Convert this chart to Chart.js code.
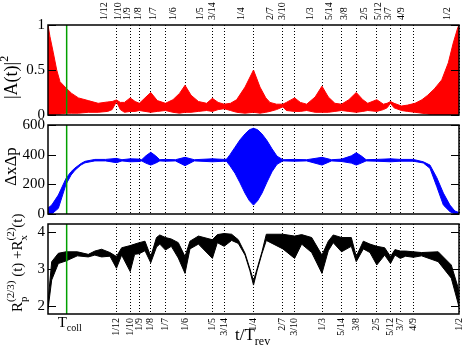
<!DOCTYPE html>
<html lang="en">
<head>
  <meta charset="UTF-8" />
  <title>Revival panels</title>
  <script src="https://cdn.jsdelivr.net/npm/chart.js@4.4.0/dist/chart.umd.min.js"></script>
  <style>
    body { margin: 0; background: #fff; }
    .wrap { position: relative; width: 463px; height: 361px; }
    .wrap canvas { position: absolute; left: 0; top: 0; }
  </style>
</head>
<body>
  <div class="wrap">
    <canvas id="amp-chart" width="463" height="361"></canvas>
    <canvas id="unc-chart" width="463" height="361"></canvas>
    <canvas id="ent-chart" width="463" height="361"></canvas>
  </div>
  <script>
    // fractional revival times (t/T_rev)
    var fracVals = [1/12, 1/10, 1/9, 1/8, 1/7, 1/6, 1/5, 3/14, 1/4, 2/7, 3/10, 1/3, 5/14, 3/8, 2/5, 5/12, 3/7, 4/9, 1/2];
    var fracLabels = ['1/12', '1/10', '1/9', '1/8', '1/7', '1/6', '1/5', '3/14', '1/4', '2/7', '3/10', '1/3', '5/14', '3/8', '2/5', '5/12', '3/7', '4/9', '1/2'];
    var tColl = 0.0227;

    // |A(t)|^2 : upper / lower edge of the oscillating band
    var tA = [0, 0.0024, 0.0065, 0.0106, 0.0146, 0.0219, 0.0288, 0.037, 0.049, 0.061, 0.0726, 0.078, 0.0833, 0.088, 0.093,
      0.1, 0.106, 0.1111, 0.118, 0.125, 0.133, 0.1429, 0.152, 0.16, 0.1667, 0.174, 0.183, 0.193, 0.2, 0.207, 0.2143,
      0.222, 0.2295, 0.2397, 0.25, 0.2579, 0.265, 0.27, 0.278, 0.2857, 0.29, 0.3, 0.307, 0.3147, 0.325, 0.3333, 0.341,
      0.349, 0.3571, 0.366, 0.375, 0.383, 0.389, 0.4, 0.408, 0.4125, 0.4167, 0.421, 0.43, 0.4375, 0.4465, 0.455, 0.462,
      0.47, 0.479, 0.487, 0.493, 0.4985, 0.5];
    var aHi = [1.0, 0.87, 0.69, 0.5, 0.37, 0.3, 0.24, 0.19, 0.16, 0.13, 0.145, 0.15, 0.167, 0.14, 0.14,
      0.19, 0.15, 0.13, 0.19, 0.25, 0.16, 0.13, 0.17, 0.24, 0.33, 0.22, 0.15, 0.13, 0.185, 0.14, 0.12,
      0.13, 0.17, 0.31, 0.5, 0.31, 0.19, 0.14, 0.12, 0.12, 0.14, 0.19, 0.14, 0.12, 0.2, 0.32, 0.2,
      0.13, 0.12, 0.17, 0.25, 0.17, 0.13, 0.17, 0.12, 0.13, 0.15, 0.13, 0.1, 0.11, 0.13, 0.17, 0.22,
      0.29, 0.39, 0.58, 0.8, 0.97, 1.0];
    var aLo = [0, 0, 0, 0.01, 0.01, 0.02, 0.02, 0.02, 0.03, 0.03, 0.04, 0.06, 0.15, 0.06, 0.03,
      0.04, 0.04, 0.05, 0.04, 0.03, 0.04, 0.05, 0.03, 0.02, 0.03, 0.03, 0.04, 0.05, 0.04, 0.06, 0.07,
      0.05, 0.03, 0.02, 0.03, 0.02, 0.03, 0.04, 0.06, 0.09, 0.05, 0.04, 0.04, 0.05, 0.03, 0.03, 0.03,
      0.04, 0.05, 0.04, 0.03, 0.04, 0.05, 0.04, 0.06, 0.08, 0.13, 0.08, 0.05, 0.04, 0.03, 0.02, 0.01,
      0, 0, 0, 0, 0, 0];

    // ΔxΔp band
    var tD = [0, 0.0045, 0.0126, 0.0219, 0.028, 0.0328, 0.04, 0.045, 0.057, 0.07, 0.0833, 0.09, 0.1, 0.1111, 0.114,
      0.119, 0.125, 0.131, 0.136, 0.1429, 0.155, 0.1667, 0.178, 0.2, 0.2143, 0.2174, 0.2214, 0.2275, 0.2336, 0.2397,
      0.245, 0.25, 0.255, 0.2603, 0.2664, 0.2725, 0.2786, 0.2857, 0.3, 0.3147, 0.3333, 0.345, 0.3571, 0.369, 0.375,
      0.381, 0.387, 0.4, 0.4167, 0.4286, 0.4444, 0.4566, 0.4647, 0.473, 0.481, 0.489, 0.495, 0.5];
    var dHi = [40, 60, 128, 240, 285, 310, 340, 355, 368, 368, 375, 366, 372, 370, 366,
      392, 416, 392, 366, 368, 366, 382, 366, 372, 368, 370, 400, 450, 500, 540,
      568, 578, 568, 540, 495, 440, 390, 366, 368, 366, 382, 366, 370, 392, 413,
      392, 366, 368, 372, 368, 368, 352, 330, 245, 141, 60, 20, 10];
    var dLo = [0, 0, 38, 200, 262, 295, 330, 345, 358, 358, 346, 358, 352, 354, 358,
      343, 330, 343, 358, 356, 358, 326, 358, 352, 356, 354, 325, 275, 210, 140,
      90, 60, 90, 140, 215, 285, 335, 358, 356, 358, 330, 358, 354, 343, 330,
      343, 358, 356, 352, 356, 356, 344, 308, 184, 60, 16, 0, 0];

    // R_p^(2/3)(t) + R_x^(2)(t) band
    var tR = [0, 0.0045, 0.0126, 0.0219, 0.0357, 0.049, 0.057, 0.0652, 0.0754, 0.0833, 0.0896, 0.1, 0.1054, 0.1111,
      0.118, 0.125, 0.132, 0.136, 0.1429, 0.15, 0.1585, 0.1667, 0.1727, 0.183, 0.2, 0.206, 0.2143, 0.2234, 0.2315,
      0.2397, 0.2457, 0.25, 0.2543, 0.2603, 0.2656, 0.2857, 0.3, 0.3086, 0.3208, 0.3333, 0.341, 0.347, 0.3571, 0.369,
      0.375, 0.3836, 0.3917, 0.4, 0.4096, 0.4167, 0.4221, 0.4286, 0.435, 0.4444, 0.4545, 0.4747, 0.4906, 0.4988, 0.5];
    var rHi = [2.1, 3.2, 3.43, 3.47, 3.47, 3.4, 3.49, 3.54, 3.45, 3.34, 3.58, 3.64, 3.68, 3.72,
      3.76, 3.34, 3.86, 3.93, 3.86, 3.82, 3.72, 3.34, 3.76, 3.9, 3.8, 3.94, 3.97, 3.95, 3.8,
      3.43, 3.0, 2.68, 3.0, 3.47, 3.95, 3.95, 3.9, 3.94, 3.86, 3.38, 3.76, 3.93, 3.86, 3.86,
      3.34, 3.76, 3.68, 3.62, 3.58, 3.34, 3.53, 3.49, 3.49, 3.47, 3.45, 3.47, 3.11, 2.5, 2.2];
    var rLo = [1.9, 2.7, 3.15, 3.22, 3.36, 3.33, 3.38, 3.33, 3.35, 3.02, 3.38, 2.93, 3.4, 3.42,
      3.5, 3.17, 3.6, 3.68, 3.52, 3.62, 3.3, 2.88, 3.55, 3.68, 3.29, 3.72, 3.62, 3.78, 3.7,
      3.38, 2.95, 2.56, 2.95, 3.42, 3.78, 3.55, 3.29, 3.68, 3.45, 2.88, 3.5, 3.72, 3.47, 3.62,
      3.2, 3.55, 3.45, 3.11, 3.38, 3.15, 3.38, 3.29, 3.35, 3.32, 3.36, 3.2, 2.75, 2.07, 1.95];

    var SERIF = '"Liberation Serif", "DejaVu Serif", serif';

    function pts(ts, vs) {
      return ts.map(function (t, i) { return { x: t, y: vs[i] }; });
    }

    function band(ts, hi, lo, color) {
      return [
        { data: pts(ts, hi), borderColor: color, backgroundColor: color, borderWidth: 1, pointRadius: 0, fill: '+1' },
        { data: pts(ts, lo), borderColor: color, backgroundColor: color, borderWidth: 1, pointRadius: 0, fill: false }
      ];
    }

    function xAxis(position, showLabels, height) {
      return {
        type: 'linear', position: position, min: 0, max: 0.5,
        afterBuildTicks: function (s) { s.ticks = fracVals.map(function (v) { return { value: v }; }); },
        afterFit: function (s) { s.height = height; s.paddingLeft = 0; s.paddingRight = 0; },
        ticks: {
          display: showLabels, autoSkip: false, minRotation: 90, maxRotation: 90,
          padding: position === 'top' ? 5 : 4, color: '#000',
          font: { family: SERIF, size: 10 },
          callback: function (v, i) { return fracLabels[i]; }
        },
        grid: { drawTicks: false, color: '#000', lineWidth: 1 },
        border: { display: false, dash: [1, 2] }
      };
    }

    function yAxis(min, max, tickVals) {
      return {
        type: 'linear', min: min, max: max,
        afterBuildTicks: function (s) { s.ticks = tickVals.map(function (v) { return { value: v }; }); },
        afterFit: function (s) { s.width = 48; s.paddingTop = 0; s.paddingBottom = 0; },
        ticks: {
          padding: 3, color: '#000', font: { family: SERIF, size: 15 },
          callback: function (v) { return String(v); }
        },
        grid: { display: false, drawTicks: false },
        border: { display: false }
      };
    }

    // text with sub/superscripts, optionally rotated to read upwards
    function richText(ctx, x, y, parts, rotate) {
      ctx.save();
      ctx.translate(x, y);
      if (rotate) ctx.rotate(-Math.PI / 2);
      ctx.fillStyle = '#000';
      ctx.textAlign = 'left';
      ctx.textBaseline = 'alphabetic';
      var pos = 0;
      parts.forEach(function (p) {
        ctx.font = p[1] + 'px ' + SERIF;
        ctx.fillText(p[0], pos, p[2] || 0);
        if (!p[3]) pos += ctx.measureText(p[0]).width;
      });
      ctx.restore();
    }

    // frame, inward ticks on both sides, T_coll marker
    var framePlugin = {
      id: 'frame',
      afterDatasetsDraw: function (chart) {
        var a = chart.chartArea, ctx = chart.ctx, x = chart.scales.x, y = chart.scales.y;
        ctx.save();
        var gx = x.getPixelForValue(tColl);
        ctx.strokeStyle = '#00a000';
        ctx.lineWidth = 1.5;
        ctx.beginPath(); ctx.moveTo(gx, a.top); ctx.lineTo(gx, a.bottom); ctx.stroke();
        ctx.strokeStyle = '#000';
        ctx.lineWidth = 1;
        y.ticks.forEach(function (t) {
          var py = Math.round(y.getPixelForValue(t.value)) + 0.5;
          ctx.beginPath();
          ctx.moveTo(a.left, py); ctx.lineTo(a.left + 8, py);
          ctx.moveTo(a.right, py); ctx.lineTo(a.right - 8, py);
          ctx.stroke();
        });
        ctx.lineWidth = 1.5;
        ctx.strokeRect(a.left, a.top, a.right - a.left, a.bottom - a.top);
        ctx.restore();
      }
    };

    function titlePlugin(draw) {
      return { id: 'titles', afterDraw: function (chart) { draw(chart.ctx, chart); } };
    }

    function makePanel(id, datasets, xPos, showX, xHeight, yMin, yMax, yTicks, pad, drawTitles) {
      return new Chart(document.getElementById(id), {
        type: 'line',
        data: { datasets: datasets },
        options: {
          responsive: false,
          animation: false,
          events: [],
          layout: { padding: pad },
          scales: { x: xAxis(xPos, showX, xHeight), y: yAxis(yMin, yMax, yTicks) },
          plugins: { legend: { display: false }, tooltip: { enabled: false } }
        },
        plugins: [framePlugin, titlePlugin(drawTitles)]
      });
    }

    makePanel('amp-chart', band(tA, aHi, aLo, '#ff0000'), 'top', true, 25, 0, 1, [0, 0.5, 1],
      { top: 0, bottom: 246, left: 0, right: 4 },
      function (ctx) {
        richText(ctx, 17, 99, [['|A(t)|', 18], ['2', 12, -9]], true);
      });

    makePanel('unc-chart', band(tD, dHi, dLo, '#0000ff'), 'bottom', false, 0, 0, 600, [0, 200, 400, 600],
      { top: 125, bottom: 147, left: 0, right: 4 },
      function (ctx) {
        richText(ctx, 16, 186, [['ΔxΔp', 17]], true);
      });

    makePanel('ent-chart', band(tR, rHi, rLo, '#000000'), 'bottom', true, 47, 1.77, 4.23, [2, 3, 4],
      { top: 224, bottom: 0, left: 0, right: 4 },
      function (ctx, chart) {
        richText(ctx, 22, 312, [
          ['R', 15], ['p', 11, 5, true], ['(2/3)', 11, -8], [' (t) +', 15],
          ['R', 15], ['x', 11, 5, true], ['(2)', 11, -8], ['(t)', 15]
        ], true);
        var gx = chart.scales.x.getPixelForValue(tColl);
        richText(ctx, gx - 9, 327, [['T', 15], ['coll', 10, 4]], false);
        richText(ctx, 235, 340, [['t/T', 17], ['rev', 12, 5]], false);
      });
  </script>
</body>
</html>
